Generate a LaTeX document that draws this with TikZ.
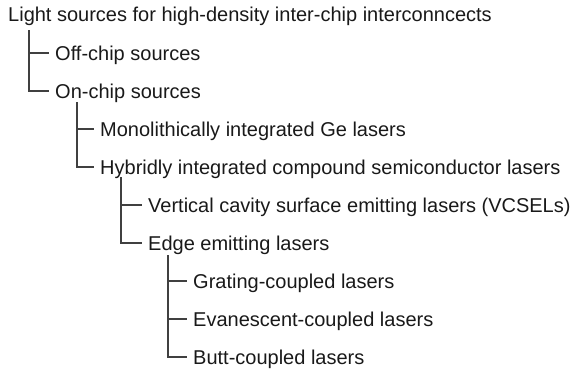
\documentclass[tikz,border=0pt]{standalone}
\usepackage{fontspec}
\setmainfont{Liberation Sans}
\usetikzlibrary{calc}
\tikzset{
  item/.style={anchor=west, inner xsep=6pt, inner ysep=0pt,
    text height=14.3pt, text depth=0pt,
    font=\fontsize{20}{24}\selectfont, text=black!90},
  branch/.style={draw=black!75, line width=1.2pt}
}

\begin{document}
\begin{tikzpicture}[x=1pt,y=-1pt]
        \useasboundingbox (0,0) rectangle (578,370);
        \begin{scope}[every node/.style={item}]
            \node (root)  at (2  , 14 ) {Light sources for high-density inter-chip interconncects};
            \node (off)   at (49 , 53 ) {Off-chip sources};
            \node (on)    at (49 , 91 ) {On-chip sources};
            \node (ge)    at (94 , 129) {Monolithically integrated Ge lasers};
            \node (hyb)   at (94 , 167) {Hybridly integrated compound semiconductor lasers};
            \node (vcsel) at (142, 205) {Vertical cavity surface emitting lasers (VCSELs)};
            \node (edge)  at (142, 243) {Edge emitting lasers};
            \node (grat)  at (187, 281) {Grating-coupled lasers};
            \node (evan)  at (187, 319) {Evanescent-coupled lasers};
            \node (butt)  at (187, 357) {Butt-coupled lasers};
        \end{scope}
        \begin{scope}[every path/.style={branch}]
            \draw ($(root.west)+(27,16)$) |- (on.west);
            \draw ($(root.west)+(27,16)$) |- (off.west);

            \draw ($(on.west)+(28,11)$) |- (hyb.west);
            \draw ($(on.west)+(28,11)$) |- (ge.west);

            \draw ($(hyb.west)+(27,10)$) |- (edge.west);
            \draw ($(hyb.west)+(27,10)$) |- (vcsel.west);

            \draw ($(edge.west)+(26,12)$) |- (butt.west);
            \draw ($(edge.west)+(26,12)$) |- (evan.west);
            \draw ($(edge.west)+(26,12)$) |- (grat.west);
        \end{scope}
    \end{tikzpicture}
\end{document}
